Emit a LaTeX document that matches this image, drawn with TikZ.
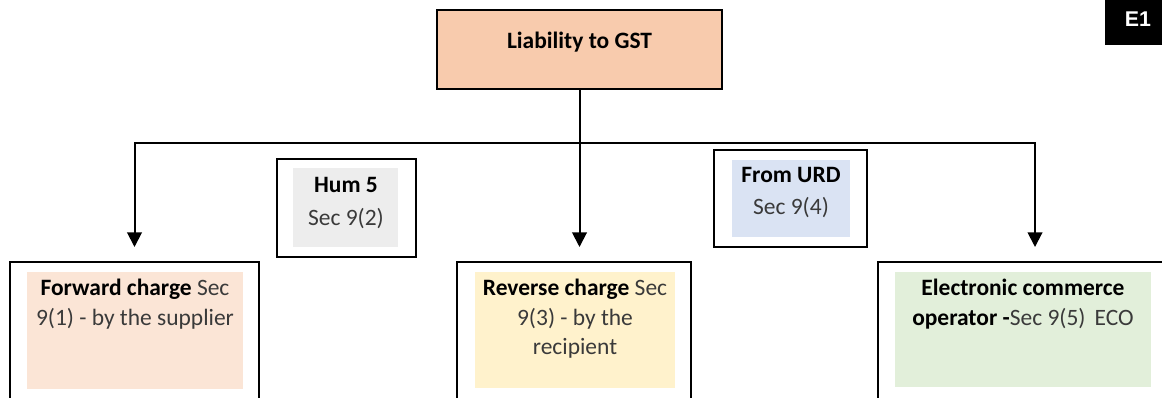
\documentclass[tikz,border=0pt]{standalone}
\usepackage{fontspec}
\setmainfont{Carlito}
\newfontfamily\badgefont{Liberation Sans}
\usetikzlibrary{fit,arrows.meta}
\definecolor{peach}{HTML}{F8CBAD}
\definecolor{lpeach}{HTML}{FBE5D6}
\definecolor{lyellow}{HTML}{FFF2CC}
\definecolor{lgreen}{HTML}{E2EFDA}
\definecolor{lgray}{HTML}{EDEDED}
\definecolor{lblue}{HTML}{DAE3F3}
\definecolor{txtgray}{HTML}{3A3A3A}
\tikzset{
  boxline/.style={draw=black, line width=1.5pt, inner sep=0pt},
  fillbox/.style={inner sep=0pt, draw=none},
  txt/.style={inner sep=0pt, align=center, font=\fontsize{17.6}{22}\selectfont, text=txtgray},
  arr/.style={line width=1.5pt, -{Triangle[width=11pt,length=11pt]}},
  conn/.style={line width=1.5pt}
}
\begin{document}
\begin{tikzpicture}[x=0.75pt,y=-0.75pt]
\useasboundingbox (0,0) rectangle (1162,398);
\clip (0,0) rectangle (1162,398);
% top box
\node[boxline, fill=peach, line width=1.7pt, fit={(437,10) (722,89)}] (top) {};
\node[txt, text=black] (topt) at (579.5,42) {\textbf{Liability to GST}};
% badge
\node[fill=black, inner sep=0pt, fit={(1105,-5) (1170,45)}] (badge) {};
\node[inner sep=0pt, text=white, font=\badgefont\bfseries\fontsize{16}{18}\selectfont] (badget) at (1138,19) {E1};
% bottom boxes
\node[boxline, fit={(10,262) (259,430)}] (L) {};
\node[fillbox, fill=lpeach, fit={(27,272) (243,389)}] (Lf) {};
\node[txt, anchor=north] (Lt) at (135,279) {\textcolor{black}{\textbf{Forward charge}} Sec\\9(1) - by the supplier};
\node[boxline, fit={(457,262) (691,430)}] (M) {};
\node[fillbox, fill=lyellow, fit={(475,272) (675,388)}] (Mf) {};
\node[txt, anchor=north] (Mt) at (575,279) {\textcolor{black}{\textbf{Reverse charge}} Sec\\9(3) - by the\\recipient};
\node[boxline, fit={(878,262) (1192,430)}] (R) {};
\node[fillbox, fill=lgreen, fit={(895,272) (1151,387)}] (Rf) {};
\node[txt, anchor=north] (Rt) at (1023,279) {\textcolor{black}{\textbf{Electronic commerce}}\\\textcolor{black}{\textbf{operator -}}Sec 9(5)\, ECO};
% side boxes
\node[boxline, fit={(277,159) (416,257)}] (H) {};
\node[fillbox, fill=lgray, fit={(293,168) (398,247)}] (Hf) {};
\node[txt, text=black] (Ht1) at (346,185) {\textbf{Hum 5}};
\node[txt] (Ht2) at (346,219) {Sec 9(2)};
\node[boxline, fit={(714,150) (867,247)}] (U) {};
\node[fillbox, fill=lblue, fit={(732,160) (850,237)}] (Uf) {};
\node[txt, text=black] (Ut1) at (791,175) {\textbf{From URD}};
\node[txt] (Ut2) at (791,208) {Sec 9(4)};
% connectors
\coordinate (j) at (579.5,143);
\draw[conn] (top.south) -- (j);
\draw[arr, shorten >=14*0.75pt] (j) -| (L.north);
\draw[arr, shorten >=14*0.75pt] (j) -| (R.north);
\draw[arr, shorten >=14*0.75pt] (j) -- (j |- M.north);
\end{tikzpicture}
\end{document}
